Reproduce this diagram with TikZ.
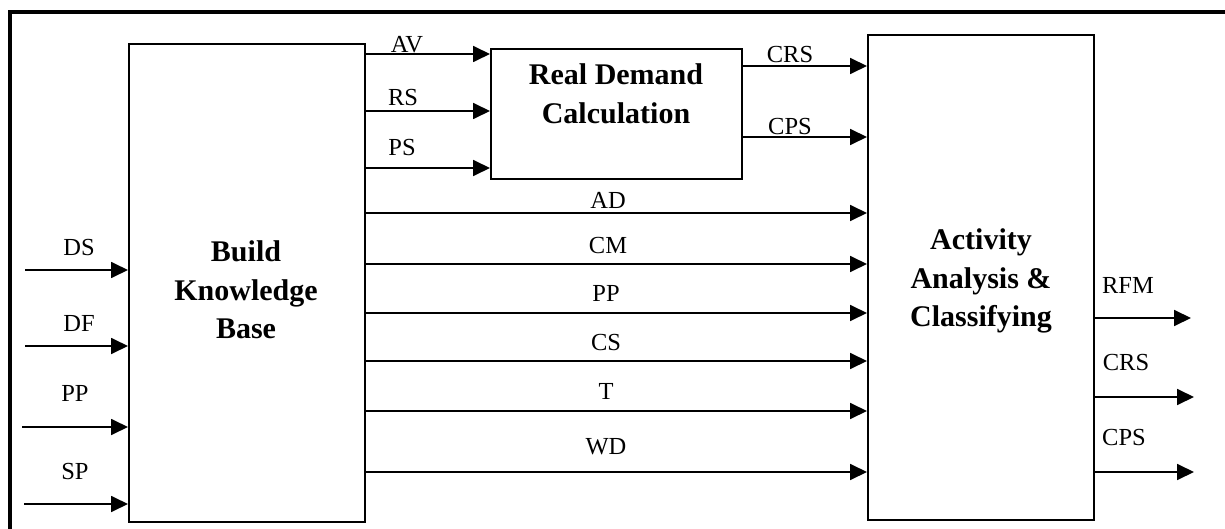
\documentclass[tikz,border=0pt]{standalone}
\usepackage{fontspec}
\setmainfont{Liberation Serif}
\usetikzlibrary{arrows.meta}
\tikzset{
  blk/.style={draw, line width=1.8pt, minimum width=#1, inner sep=0pt, anchor=north west},
  arr/.style={line width=1.8pt, -{Triangle[length=17pt,width=16pt]}},
  lbl/.style={font=\fontsize{24.5}{26}\selectfont, inner sep=0pt},
  btxt/.style={font=\bfseries\fontsize{30}{38.5}\selectfont, align=center, inner sep=0pt},
}
\begin{document}
\begin{tikzpicture}[x=1pt,y=-1pt]
\useasboundingbox (0,0) rectangle (1225,529);
% outer frame (cropped)
\draw[line width=4pt] (10,535) -- (10,12) -- (1232,12);
% boxes
\node[blk=236pt, minimum height=478pt] (kb) at (128,43) {};
\node[blk=251pt, minimum height=130pt] (rdc) at (490,48) {};
\node[blk=226pt, minimum height=485pt] (aac) at (867,34) {};
% box texts
\node[btxt] (kbt) at (246,290) {Build\\Knowledge\\Base};
\node[btxt] (rdct) at (616,94) {Real Demand\\Calculation};
\node[btxt] (aact) at (981,281) {Activity\\Analysis \&\\Classifying};
% inputs to KB
\coordinate (ids) at (25,270);
\coordinate (idf) at (25,346);
\coordinate (ipp) at (22,427);
\coordinate (isp) at (24,504);
\draw[arr] (ids) -- (kb.west |- ids);
\draw[arr] (idf) -- (kb.west |- idf);
\draw[arr] (ipp) -- (kb.west |- ipp);
\draw[arr] (isp) -- (kb.west |- isp);
\node[lbl] (lds) at (79,248) {DS};
\node[lbl] (ldf) at (79,324) {DF};
\node[lbl] (lpp) at (75,393) {PP};
\node[lbl] (lsp) at (75,472) {SP};
% KB to RDC
\draw[arr] (kb.east |- 0,54) -- (rdc.west |- 0,54);
\draw[arr] (kb.east |- 0,111) -- (rdc.west |- 0,111);
\draw[arr] (kb.east |- 0,168) -- (rdc.west |- 0,168);
\node[lbl] (lav) at (407,45) {AV};
\node[lbl] (lrs) at (403,98) {RS};
\node[lbl] (lps) at (402,148) {PS};
% RDC to AAC
\draw[arr] (rdc.east |- 0,66) -- (aac.west |- 0,66);
\draw[arr] (rdc.east |- 0,137) -- (aac.west |- 0,137);
\node[lbl] (lcrs1) at (790,55) {CRS};
\node[lbl] (lcps1) at (790,127) {CPS};
% KB to AAC
\draw[arr] (kb.east |- 0,213) -- (aac.west |- 0,213);
\draw[arr] (kb.east |- 0,264) -- (aac.west |- 0,264);
\draw[arr] (kb.east |- 0,313) -- (aac.west |- 0,313);
\draw[arr] (kb.east |- 0,361) -- (aac.west |- 0,361);
\draw[arr] (kb.east |- 0,411) -- (aac.west |- 0,411);
\draw[arr] (kb.east |- 0,472) -- (aac.west |- 0,472);
\node[lbl] (lad) at (608,200) {AD};
\node[lbl] (lcm) at (608,246) {CM};
\node[lbl] (lpp2) at (606,293) {PP};
\node[lbl] (lcs) at (606,343) {CS};
\node[lbl] (lt) at (606,391) {T};
\node[lbl] (lwd) at (606,447) {WD};
% outputs
\coordinate (orfm) at (1191,318);
\coordinate (ocrs) at (1194,397);
\coordinate (ocps) at (1194,472);
\draw[arr] (aac.east |- orfm) -- (orfm);
\draw[arr] (aac.east |- ocrs) -- (ocrs);
\draw[arr] (aac.east |- ocps) -- (ocps);
\node[lbl] (lrfm) at (1128,285) {RFM};
\node[lbl] (lcrs2) at (1126,363) {CRS};
\node[lbl] (lcps2) at (1124,438) {CPS};
\end{tikzpicture}
\end{document}
